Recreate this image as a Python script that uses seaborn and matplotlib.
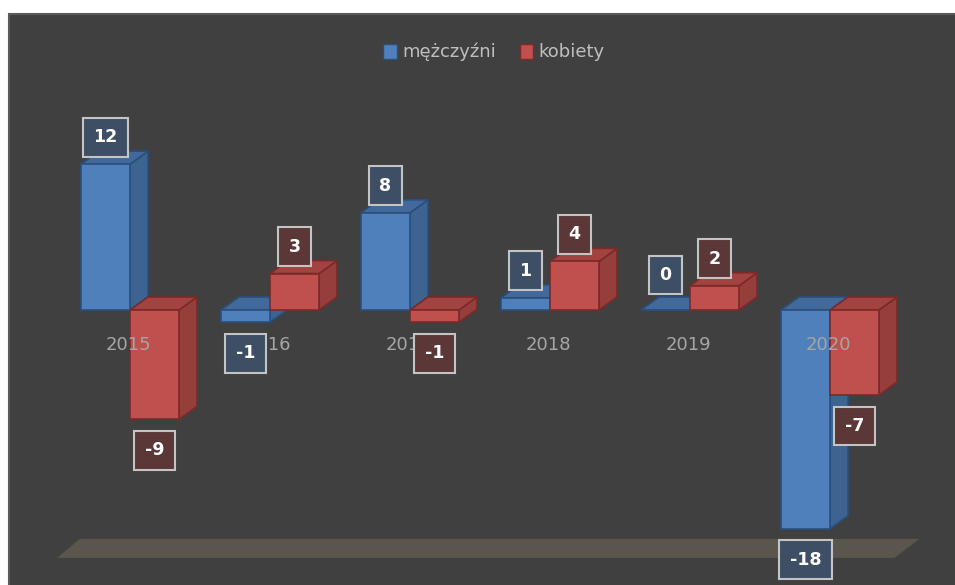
import pandas as pd
import numpy as np
import matplotlib
matplotlib.use("Agg")
import matplotlib.pyplot as plt
import seaborn as sns
from matplotlib.patches import Polygon, Rectangle, Patch

# Data
years = ['2015', '2016', '2017', '2018', '2019', '2020']
men = [12, -1, 8, 1, 0, -18]
women = [-9, 3, -1, 4, 2, -7]
series = ['mężczyźni', 'kobiety']

df = pd.DataFrame({
    'rok': years * 2,
    'zmiana': men + women,
    'płeć': [series[0]] * len(years) + [series[1]] * len(years),
})

# Styling
front = {'mężczyźni': '#4f80bc', 'kobiety': '#c0504d'}
side = {'mężczyźni': '#3d6390', 'kobiety': '#963e3b'}
top = {'mężczyźni': '#41699b', 'kobiety': '#a34341'}
edge = {'mężczyźni': '#2b4f7c', 'kobiety': '#7a2a28'}
label_fill = {'mężczyźni': '#3e4e64', 'kobiety': '#5c3737'}
BG = '#404040'

sns.set_style('white')
plt.rcParams['font.family'] = ['DejaVu Sans']

fig = plt.figure(figsize=(9.55, 5.85), dpi=100)
fig.patch.set_facecolor('white')

ax = fig.add_axes([0, 0, 1, 1])
ax.set_facecolor('none')
ax.add_patch(Rectangle((9 / 955, -0.01), 1, 1.01 - 14 / 585, transform=ax.transAxes,
                       facecolor=BG, edgecolor='#5a5a5a', linewidth=1.5, zorder=0))

sns.barplot(data=df, x='rok', y='zmiana', hue='płeć', hue_order=series,
            palette=front, width=0.7, legend=False, ax=ax)

# 3D depth offsets (data units)
ax.set_xlim(-130 / 140, 825 / 140)
ax.set_ylim(-275 / 12.15, 310 / 12.15)
dx, dy = 18 / 140, 13 / 12.15

# Floor
fx0, fx1, fy = -0.52, len(years) - 0.54, -20.4
ax.add_patch(Polygon([(fx0, fy), (fx1, fy), (fx1 + 0.18, fy + 1.56), (fx0 + 0.16, fy + 1.56)],
                     closed=True, facecolor='#5a564e', edgecolor='none', zorder=1))

values = {series[0]: men, series[1]: women}
bars = [p for p in ax.patches if isinstance(p, Rectangle) and p.get_zorder() != 0][:2 * len(years)]
for k, bar in enumerate(bars):
    s = series[k // len(years)]
    v = values[s][k % len(years)]
    z = 2 + k // len(years)
    x0 = bar.get_x()
    x1 = x0 + bar.get_width()
    bar.set_facecolor(front[s])
    bar.set_edgecolor(edge[s])
    bar.set_linewidth(1.2)
    bar.set_zorder(z + 0.2)
    t = max(v, 0)
    ax.add_patch(Polygon([(x1, 0), (x1 + dx, dy), (x1 + dx, v + dy), (x1, v)], closed=True,
                         facecolor=side[s], edgecolor=edge[s], linewidth=1.2, zorder=z))
    ax.add_patch(Polygon([(x0, t), (x0 + dx, t + dy), (x1 + dx, t + dy), (x1, t)], closed=True,
                         facecolor=top[s], edgecolor=edge[s], linewidth=1.2, zorder=z + 0.1))
    off = 27 if v > 0 else (35 if v == 0 else -31)
    ax.annotate(str(v), xy=((x0 + x1) / 2, v), xytext=(0, off), textcoords='offset pixels',
                ha='center', va='center', color='white', fontsize=12.5, fontweight='bold',
                bbox=dict(boxstyle='square,pad=0.6', facecolor=label_fill[s],
                          edgecolor='#c4c4c4', linewidth=1.5),
                zorder=10)

# Category labels
for i, y in enumerate(years):
    ax.annotate(y, xy=(i, 0), xytext=(-2, -35), textcoords='offset pixels',
                ha='center', va='center', color='#a6a6a6', fontsize=13, zorder=6)

ax.set_axis_off()

handles = [Patch(facecolor=front[s], edgecolor=edge[s], linewidth=1) for s in series]
ax.legend(handles, series, loc='center', bbox_to_anchor=(494 / 955, 1 - 52 / 585),
          ncol=2, frameon=False, fontsize=13, labelcolor='#bfbfbf',
          handlelength=0.75, handleheight=0.9, handletextpad=0.3, columnspacing=1.3)

fig.savefig('out.png', dpi=100, facecolor=fig.get_facecolor())
